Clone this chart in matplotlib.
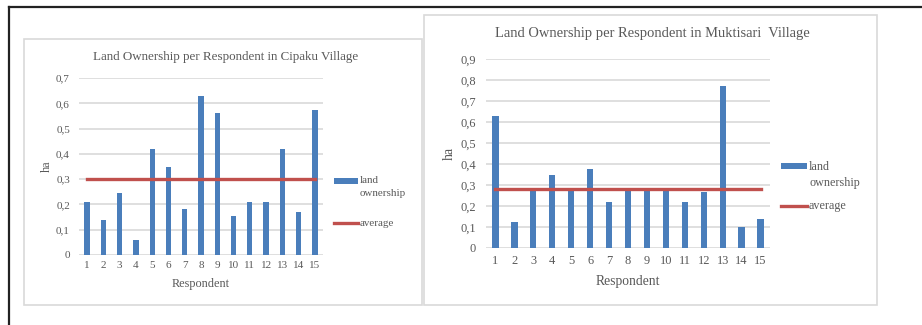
"""Land ownership per respondent in Cipaku and Muktisari villages."""

import matplotlib.pyplot as plt
from matplotlib.lines import Line2D
from matplotlib.patches import Rectangle

respondents = list(range(1, 16))

cipaku_land = [0.21, 0.14, 0.245, 0.06, 0.42, 0.35, 0.18, 0.63, 0.56, 0.155,
               0.21, 0.21, 0.42, 0.17, 0.575]
cipaku_average = 0.30
cipaku_yticks = [0, 0.1, 0.2, 0.3, 0.4, 0.5, 0.6, 0.7]
cipaku_ylabels = ["0", "0,1", "0,2", "0,3", "0,4", "0,5", "0,6", "0,7"]

muktisari_land = [0.63, 0.125, 0.28, 0.35, 0.28, 0.375, 0.22, 0.28, 0.28, 0.28,
                  0.22, 0.265, 0.77, 0.10, 0.14]
muktisari_average = 0.283
muktisari_yticks = [0, 0.1, 0.2, 0.3, 0.4, 0.5, 0.6, 0.7, 0.8, 0.9]
muktisari_ylabels = ["0", "0,1", "0,2", "0,3", "0,4", "0,5", "0,6", "0,7", "0,8", "0,9"]

legend_labels = ["land\nownership", "average"]

W, H = 922, 325
TEXT = "#595959"
BAR = "#4a7ebb"
AVG = "#c0504d"
GRID = "#d9d9d9"

plt.rcParams["font.family"] = ["Liberation Serif", "DejaVu Serif"]

fig = plt.figure(figsize=(W / 100, H / 100), dpi=100)


def fx(x):
    return x / W


def fy(y):
    return 1 - y / H


def box(x0, y0, x1, y1):
    """Pixel box (top-left origin) to figure fraction rect."""
    return [fx(x0), fy(y1), (x1 - x0) / W, (y1 - y0) / H]


def panel(x0, y0, x1, y1):
    r = box(x0, y0, x1, y1)
    fig.patches.append(Rectangle((r[0], r[1]), r[2], r[3], transform=fig.transFigure,
                                 facecolor="white", edgecolor=GRID, linewidth=1.2,
                                 zorder=-5))


def draw_legend(x, y_bar, y_avg, length, scale):
    """Legend drawn by hand so the bar key lines up with the first text line."""
    fig.patches.append(Rectangle((fx(x), fy(y_bar + 2.7 * scale)), length / W,
                                 5.4 * scale / H, transform=fig.transFigure,
                                 facecolor=BAR, edgecolor="none"))
    fig.add_artist(Line2D([fx(x), fx(x + length)], [fy(y_avg)] * 2, color=AVG,
                          linewidth=2.4))
    fs = 7.9 * scale
    fig.text(fx(x + length + 2), fy(y_bar - 4.6 * scale), legend_labels[0], ha="left",
             va="top", fontsize=fs, color=TEXT, linespacing=1.45)
    fig.text(fx(x + length + 2), fy(y_avg), legend_labels[1], ha="left",
             va="center", fontsize=fs, color=TEXT)


def draw_chart(ax_rect, values, average, yticks, ylabels, title, scale,
               title_xy, xlabel_y, ylabel_x):
    ax = fig.add_axes(box(*ax_rect))
    ax.set_facecolor("none")
    ax.bar(respondents, values, width=0.33, color=BAR, zorder=2)
    ax.plot(respondents, [average] * len(respondents), color=AVG, linewidth=2.4,
            zorder=3)
    ax.set_xlim(0.5, 15.5)
    ax.set_ylim(0, yticks[-1])
    ax.set_yticks(yticks, ylabels)
    ax.set_xticks(respondents, [str(r) for r in respondents])
    ax.grid(axis="y", color=GRID, linewidth=1.2, zorder=0)
    ax.set_axisbelow(True)
    for s in ax.spines.values():
        s.set_visible(False)
    ax.tick_params(length=0, labelsize=8.0 * scale, colors=TEXT)
    ax.tick_params(axis="x", pad=4.5 * scale)
    ax.tick_params(axis="y", pad=6.5 * scale)

    cx = (ax_rect[0] + ax_rect[2]) / 2
    fig.text(fx(title_xy[0]), fy(title_xy[1]), title, ha="center", va="center",
             fontsize=9.4 * scale, color=TEXT)
    fig.text(fx(cx), fy(xlabel_y), "Respondent", ha="center", va="center",
             fontsize=8.8 * scale, color=TEXT)
    fig.text(fx(ylabel_x), fy((ax_rect[1] + ax_rect[3]) / 2), "ha", ha="center",
             va="center", rotation=90, fontsize=8.8 * scale, color=TEXT)
    return ax


# outer page frame
fig.add_artist(Line2D([fx(9), 1], [fy(7)] * 2, color="#222222", linewidth=1.6))
fig.add_artist(Line2D([fx(9)] * 2, [0, fy(7)], color="#222222", linewidth=1.6))

panel(24, 39, 422, 305)
panel(424, 15, 877, 305)

draw_chart((79, 78, 323, 255), cipaku_land, cipaku_average, cipaku_yticks,
           cipaku_ylabels, "Land Ownership per Respondent in Cipaku Village", 1.0,
           (226, 57), 284, 47)
draw_legend(334, 181, 223, 24, 1.0)

draw_chart((486, 59, 770, 248), muktisari_land, muktisari_average, muktisari_yticks,
           muktisari_ylabels, "Land Ownership per Respondent in Muktisari  Village", 1.11,
           (652, 34), 281, 449)
draw_legend(781, 166, 206, 26, 1.1)

fig.savefig("out.png", dpi=100)
